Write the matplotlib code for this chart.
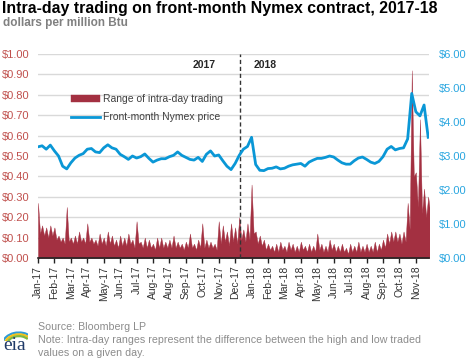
import numpy as np
import matplotlib.pyplot as plt
from matplotlib.patches import Arc

plt.rcParams['font.family'] = ['Liberation Sans', 'DejaVu Sans']

# axis labels (category axis, one label every 20 trading days)
month_labels = ['Jan-17', 'Feb-17', 'Mar-17', 'Apr-17', 'May-17', 'Jun-17', 'Jul-17',
                'Aug-17', 'Aug-17', 'Sep-17', 'Oct-17', 'Nov-17', 'Dec-17',
                'Jan-18', 'Feb-18', 'Mar-18', 'Apr-18', 'May-18', 'Jun-18', 'Jul-18',
                'Aug-18', 'Sep-18', 'Oct-18', 'Nov-18']

# weekly readings of the intra-day range, $/MMBtu: the spike and the floor of each week
range_peak = [0.27, 0.16, 0.15, 0.16, 0.15, 0.11, 0.10, 0.25, 0.10, 0.11,
              0.13, 0.10, 0.17, 0.10, 0.09, 0.12, 0.10, 0.13, 0.11, 0.09,
              0.11, 0.10, 0.12, 0.09, 0.18, 0.08, 0.10, 0.09, 0.07, 0.10,
              0.10, 0.08, 0.09, 0.11, 0.08, 0.07, 0.08, 0.12, 0.07, 0.09,
              0.17, 0.09, 0.08, 0.07, 0.18, 0.16, 0.13, 0.17, 0.15, 0.20,
              0.14, 0.17, 0.36, 0.13, 0.11, 0.09, 0.07, 0.06, 0.07, 0.08,
              0.06, 0.08, 0.07, 0.06, 0.08, 0.06, 0.07, 0.06, 0.12, 0.07,
              0.06, 0.09, 0.07, 0.06, 0.07, 0.05, 0.07, 0.06, 0.08, 0.06,
              0.07, 0.06, 0.08, 0.07, 0.09, 0.12, 0.13, 0.13, 0.12, 0.13,
              0.27, 0.92, 0.42, 0.68, 0.34, 0.30]
range_floor = [0.12, 0.11, 0.10, 0.11, 0.09, 0.08, 0.07, 0.08, 0.07, 0.07,
               0.08, 0.07, 0.08, 0.07, 0.06, 0.07, 0.06, 0.07, 0.06, 0.05,
               0.06, 0.06, 0.07, 0.05, 0.07, 0.05, 0.05, 0.05, 0.04, 0.05,
               0.05, 0.05, 0.05, 0.05, 0.05, 0.04, 0.05, 0.05, 0.04, 0.05,
               0.05, 0.05, 0.05, 0.04, 0.07, 0.08, 0.06, 0.08, 0.07, 0.09,
               0.08, 0.09, 0.12, 0.07, 0.06, 0.04, 0.04, 0.03, 0.03, 0.04,
               0.03, 0.04, 0.03, 0.03, 0.04, 0.03, 0.03, 0.03, 0.04, 0.03,
               0.03, 0.04, 0.03, 0.03, 0.03, 0.02, 0.03, 0.03, 0.03, 0.03,
               0.03, 0.03, 0.03, 0.04, 0.05, 0.07, 0.08, 0.08, 0.07, 0.08,
               0.14, 0.40, 0.25, 0.22, 0.20, 0.22]

# weekly front-month settlement, $/MMBtu
front_month = [3.27, 3.30, 3.20, 3.32, 3.15, 3.00, 2.70, 2.62, 2.80, 2.94,
               3.02, 3.07, 3.20, 3.22, 3.12, 3.10, 3.24, 3.33, 3.24, 3.20,
               3.05, 2.98, 2.90, 3.00, 2.94, 2.98, 3.06, 2.93, 2.82, 2.88,
               2.92, 2.92, 2.98, 3.02, 3.12, 3.02, 2.96, 2.90, 2.88, 2.96,
               2.84, 3.05, 3.15, 3.00, 3.03, 2.86, 2.70, 2.60, 2.78, 3.02,
               3.20, 3.28, 3.55, 2.75, 2.58, 2.57, 2.63, 2.64, 2.68, 2.62,
               2.64, 2.70, 2.74, 2.76, 2.78, 2.70, 2.82, 2.88, 2.93, 2.93,
               2.96, 3.00, 2.97, 2.88, 2.80, 2.76, 2.76, 2.86, 2.94, 2.97,
               2.90, 2.82, 2.78, 2.84, 2.98, 3.20, 3.28, 3.18, 3.22, 3.24,
               3.50, 4.84, 4.30, 4.18, 4.50, 3.55]

days_per_week = 5
days_per_label = 20
year_break = 246  # first trading day of 2018 on the category axis

x = np.arange(len(front_month)) * days_per_week
# peak and floor alternate inside each week
x_range = np.column_stack([x, x + days_per_week / 2]).ravel()
y_range = np.column_stack([range_peak, range_floor]).ravel()

red = '#A33041'
blue = '#0A97D6'

fig = plt.figure(figsize=(4.68, 3.6), dpi=100)
ax = fig.add_axes([38/468, 1 - 258/360, 391/468, 204/360])
ax2 = ax.twinx()

ax.fill_between(x_range, 0, y_range, color=red, lw=0.3, edgecolor=red,
                label='Range of intra-day trading')
ax2.plot(x, front_month, color=blue, lw=2.0, solid_joinstyle='round',
         label='Front-month Nymex price', zorder=3)
ax2.axvline(year_break, color='#333333', lw=1, ls=(0, (3, 2)), zorder=2)

ax.set_xlim(0, 476)
ax.set_ylim(0, 1)
ax2.set_ylim(0, 6)

left_ticks = np.arange(0, 1.001, 0.1)
right_ticks = np.arange(0, 6.001, 1)
ax.set_yticks(left_ticks)
ax.set_yticklabels([f'${v:.2f}' for v in left_ticks])
ax2.set_yticks(right_ticks)
ax2.set_yticklabels([f'${v:.2f}' for v in right_ticks])
ax.set_xticks(np.arange(len(month_labels)) * days_per_label)
ax.set_xticklabels(month_labels, rotation=90)

ax.set_axisbelow(True)
ax.grid(axis='y', color='#D9D9D9', lw=1)
ax.grid(axis='x', visible=False)

for a in (ax, ax2):
    for s in ('top', 'left', 'right'):
        a.spines[s].set_visible(False)
ax2.spines['bottom'].set_visible(False)
ax.spines['bottom'].set_color('#222222')
ax.spines['bottom'].set_linewidth(1.2)

ax.tick_params(axis='y', length=0, pad=6, labelsize=8, labelcolor='#C0504D')
ax2.tick_params(axis='y', length=0, pad=7, labelsize=8, labelcolor='#29A6E0')
ax.tick_params(axis='x', length=3.5, width=1, color='#222222', pad=2,
               labelsize=7.5, labelcolor='#333333')

# year annotations
xt = ax.get_xaxis_transform()
ax.text(202, 0.946, '2017', transform=xt, ha='center', va='center',
        fontsize=7.5, fontweight='bold', color='#262626')
ax.text(276, 0.946, '2018', transform=xt, ha='center', va='center',
        fontsize=7.5, fontweight='bold', color='#262626')

h1, l1 = ax.get_legend_handles_labels()
h2, l2 = ax2.get_legend_handles_labels()
ax2.legend(h1 + h2, l1 + l2, loc='upper left', bbox_to_anchor=(0.06, 0.85),
           frameon=False, fontsize=7.5, handlelength=2.8, handletextpad=0.3,
           labelspacing=0.8, labelcolor='#404040')

# titles
fig.text(2/468, 1 - 1/360, 'Intra-day trading on front-month Nymex contract, 2017-18',
         ha='left', va='top', fontsize=11.4, fontweight='bold', color='black')
fig.text(3/468, 1 - 17/360, 'dollars per million Btu', ha='left', va='top',
         fontsize=8.5, fontweight='bold', color='#808080')

# footer
grey = '#8C8C8C'
fig.text(38/468, 1 - 327/360, 'Source: Bloomberg LP', ha='left', va='center',
         fontsize=7.7, color=grey)
fig.text(38/468, 1 - 340/360,
         'Note: Intra-day ranges represent the difference between the high and low traded',
         ha='left', va='center', fontsize=7.7, color=grey)
fig.text(38/468, 1 - 353/360, 'values on a given day.', ha='left', va='center',
         fontsize=7.7, color=grey)

# eia logo
fig.text(3/468, 1 - 346/360, 'eia', ha='left', va='center', fontsize=14,
         family='Liberation Serif', color='#1F3A68')
logo = fig.add_axes([4/468, 1 - 341/360, 24/468, 10/360])
logo.set_xlim(0, 1)
logo.set_ylim(0, 1)
logo.axis('off')
for r, c in ((1.00, '#2E9BD6'), (0.86, '#F2C21B'), (0.72, '#7DB843')):
    logo.add_patch(Arc((0.62, -0.45), 1.4 * r, 2.6 * r, theta1=60, theta2=165,
                       color=c, lw=1.6))

fig.savefig('out.png', dpi=100)
